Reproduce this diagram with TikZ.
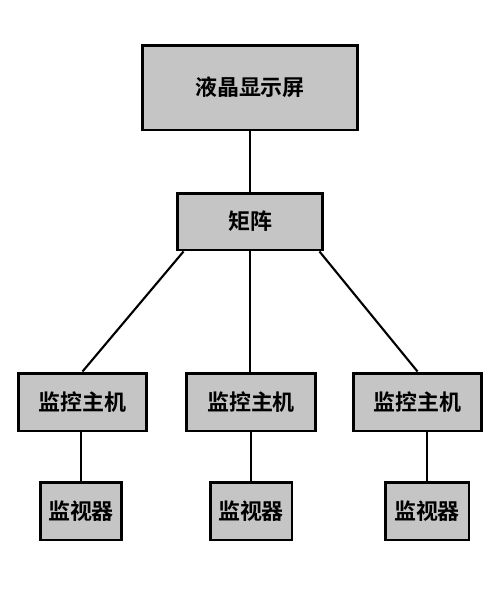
\documentclass[tikz,border=0pt]{standalone}
\usepackage{fontspec}
\newfontfamily\cjk{Noto Sans CJK SC}[BoldFont=Noto Sans CJK SC Bold]
\usetikzlibrary{calc}
\definecolor{boxgray}{RGB}{197,197,197}
\tikzset{
	kuang/.style={draw=black,fill=boxgray,line width=1.7pt,inner sep=0pt,
		font=\cjk\bfseries\fontsize{12.5}{14}\selectfont},
	lian/.style={line width=1.2pt}
}
\begin{document}
\begin{tikzpicture}[x=0.02cm,y=-0.02cm]
			\useasboundingbox (0,0) rectangle (500,589);
			\node[kuang,minimum width=4.32cm,minimum height=1.7cm] (yj) at (250,87.5) {液晶显示屏};
			\node[kuang,minimum width=2.92cm,minimum height=1.14cm] (jz) at (250,221.5) {矩阵};
			%监控主机
			\node[kuang,minimum width=2.58cm,minimum height=1.16cm] (zjA) at (82.5,402) {监控主机};
			\node[kuang,minimum width=2.6cm,minimum height=1.16cm] (zjB) at (251,402) {监控主机};
			\node[kuang,minimum width=2.58cm,minimum height=1.16cm] (zjC) at (417.5,402) {监控主机};
			%监视器
			\node[kuang,minimum width=1.64cm,minimum height=1.16cm] (jsA) at (81,511) {监视器};
			\node[kuang,minimum width=1.64cm,minimum height=1.16cm] (jsB) at (251,511) {监视器};
			\node[kuang,minimum width=1.68cm,minimum height=1.16cm] (jsC) at (427,511) {监视器};
			\draw[lian] (yj) -- (jz);
			\draw[lian] ($(jz.south west)+(8,0)$) -- (zjA.north);
			\draw[lian] (jz) -- (jz |- zjB.north);
			\draw[lian] ($(jz.south east)+(-5,0)$) -- (zjC.north);
			\foreach \n in {A,B,C}
			\draw[lian] (js\n.north) -- (js\n.north |- zj\n.south);
			
\end{tikzpicture}
\end{document}
